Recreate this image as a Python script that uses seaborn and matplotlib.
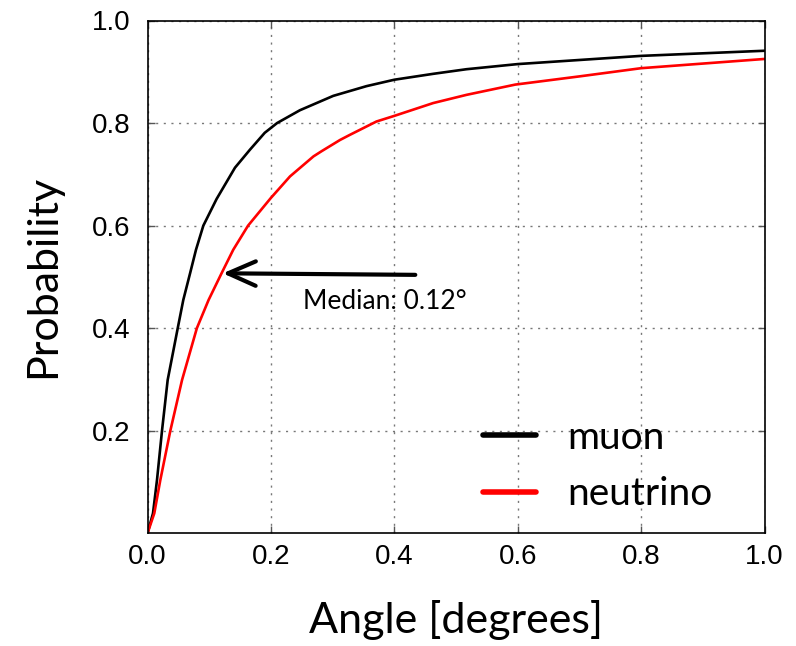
import matplotlib
matplotlib.use("Agg")
import matplotlib.pyplot as plt
import seaborn as sns
import pandas as pd

# ---- data ----
muon_angle = [0.0, 0.0089, 0.0154, 0.0235, 0.0327, 0.049, 0.058, 0.069, 0.0786, 0.0905,
              0.112, 0.1418, 0.166, 0.190, 0.21, 0.247, 0.301, 0.355, 0.4, 0.463,
              0.517, 0.6, 0.7, 0.8, 1.0]
muon_prob = [0.0, 0.039, 0.104, 0.2, 0.299, 0.4, 0.455, 0.507, 0.553, 0.6,
             0.652, 0.713, 0.748, 0.781, 0.8, 0.825, 0.853, 0.872, 0.8845, 0.896,
             0.905, 0.915, 0.923, 0.931, 0.941]
nu_angle = [0.0, 0.011, 0.0208, 0.037, 0.056, 0.080, 0.099, 0.12, 0.139, 0.163,
            0.2, 0.231, 0.269, 0.282, 0.312, 0.328, 0.371, 0.4, 0.463, 0.517,
            0.596, 0.7, 0.8, 1.0]
nu_prob = [0.0, 0.039, 0.104, 0.2, 0.299, 0.4, 0.455, 0.507, 0.553, 0.6,
           0.654, 0.696, 0.735, 0.745, 0.767, 0.777, 0.803, 0.814, 0.839, 0.855,
           0.875, 0.891, 0.907, 0.925]
series_names = ["muon", "neutrino"]
series_colors = ["black", "#ff0000"]
x_ticks = [0.0, 0.2, 0.4, 0.6, 0.8, 1.0]
x_ticklabels = ["0.0", "0.2", "0.4", "0.6", "0.8", "1.0"]
y_ticks = [0.2, 0.4, 0.6, 0.8, 1.0]
y_ticklabels = ["0.2", "0.4", "0.6", "0.8", "1.0"]
median_angle = 0.122
median_prob = 0.507
median_text = "Median: 0.12°"
x_label = "Angle [degrees]"
y_label = "Probability"

df = pd.concat([
    pd.DataFrame({"angle": muon_angle, "prob": muon_prob, "particle": series_names[0]}),
    pd.DataFrame({"angle": nu_angle, "prob": nu_prob, "particle": series_names[1]}),
], ignore_index=True)

sns.set_theme(style="white")
plt.rcParams["font.family"] = ["Lato", "DejaVu Sans"]
plt.rcParams["text.color"] = "black"
plt.rcParams["axes.labelcolor"] = "black"

fig = plt.figure(figsize=(7.96, 6.46), dpi=100)
ax = fig.add_axes([147.5 / 796, 1 - 533.3 / 646, 617 / 796, 512.8 / 646])

sns.lineplot(data=df, x="angle", y="prob", hue="particle",
             palette=dict(zip(series_names, series_colors)),
             estimator=None, sort=False, linewidth=1.9, ax=ax)

ax.set_xlim(0, 1)
ax.set_ylim(0, 1)
ax.set_xticks(x_ticks)
ax.set_xticklabels(x_ticklabels)
ax.set_yticks(y_ticks)
ax.set_yticklabels(y_ticklabels)
ax.tick_params(direction="in", length=5, width=1, color="#555555",
               top=True, right=True, bottom=True, left=True, labelsize=20,
               labelcolor="black")
ax.tick_params(axis="x", pad=8)
ax.tick_params(axis="y", pad=12)
for lab in ax.get_xticklabels() + ax.get_yticklabels():
    lab.set_fontfamily("Liberation Sans")
ax.grid(True, linestyle=(0, (1.5, 4)), color="#777777", linewidth=1)
for s in ax.spines.values():
    s.set_visible(True)
    s.set_color("black")
    s.set_linewidth(1.2)

ax.set_xlabel(x_label, fontsize=31, labelpad=21, color="black")
ax.set_ylabel(y_label, fontsize=31, labelpad=22, color="black")

ax.annotate("", xy=(median_angle, median_prob), xytext=(0.434, 0.504),
            arrowprops=dict(arrowstyle="->,head_length=0.5,head_width=0.22",
                            color="black", lw=3, mutation_scale=40,
                            shrinkA=0, shrinkB=0))
ax.text(0.252, 0.452, median_text, fontsize=19, va="center", ha="left",
        color="black", transform=ax.transData)

leg = ax.legend(loc="lower left", bbox_to_anchor=(0.544, 0.041), frameon=False,
                fontsize=28, handlelength=1.36, handletextpad=0.8,
                labelspacing=0.53, borderpad=0, borderaxespad=0, title=None)
for t in leg.get_texts():
    t.set_color("black")
for h in leg.get_lines():
    h.set_linewidth(4)

fig.savefig("out.png", dpi=100)
